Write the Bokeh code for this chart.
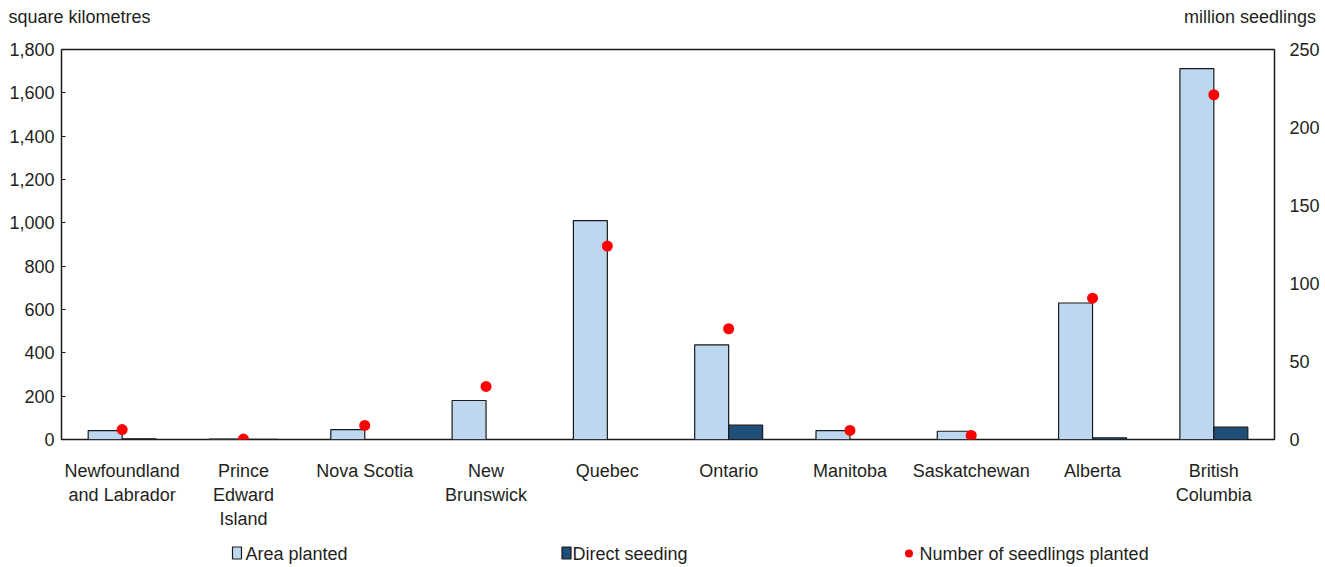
from bokeh.plotting import figure
from bokeh.layouts import column
from bokeh.core.properties import value
from bokeh.models import (Range1d, LinearAxis, FixedTicker, NumeralTickFormatter,
                          ColumnDataSource)
from bokeh.embed import file_html
from bokeh.resources import INLINE

# Tree planting by province
provinces = ["Newfoundland\nand Labrador", "Prince\nEdward\nIsland", "Nova Scotia",
             "New\nBrunswick", "Quebec", "Ontario", "Manitoba", "Saskatchewan",
             "Alberta", "British\nColumbia"]
area_planted = [41, 2, 46, 180, 1010, 437, 41, 38, 630, 1712]        # square kilometres
direct_seeding = [3, 1, 0, 0, 0, 66, 0, 0, 8, 57]                    # square kilometres
seedlings = [6.4, 0.3, 9, 34, 124, 71, 5.8, 2.6, 90.6, 221]          # million seedlings

left_ticks = [0, 200, 400, 600, 800, 1000, 1200, 1400, 1600, 1800]
right_ticks = [0, 50, 100, 150, 200, 250]
unit_captions = ["square kilometres", "million seedlings"]
series_names = ["Area planted", "Direct seeding", "Number of seedlings planted"]

FONT = "Liberation Sans"
FS = "18px"
TXT = "#231f20"
LIGHT = "#bdd7ee"
DARK = "#1f4e79"
RED = "#ff0000"
EDGE = "#1a1a1a"

W = 1325
BORDER_L, BORDER_R = 61, 51

centres = [i + 0.5 for i in range(len(provinces))]
bw = 0.28

src = ColumnDataSource(dict(
    x_area=[c - bw / 2 for c in centres],
    x_direct=[c + bw / 2 for c in centres],
    x=centres,
    area=area_planted,
    direct=direct_seeding,
    seed=seedlings,
))

p = figure(width=W, height=535, output_backend="svg", toolbar_location=None,
           x_range=Range1d(0, len(provinces)), y_range=Range1d(0, 1800),
           min_border_left=BORDER_L, min_border_right=BORDER_R, min_border_top=49,
           min_border_bottom=96, x_axis_type=None, y_axis_type=None)
p.extra_y_ranges = {"seed": Range1d(0, 250)}
p.grid.visible = False
p.outline_line_color = EDGE
p.outline_line_width = 1.5

p.vbar(x="x_area", top="area", width=bw, source=src, fill_color=LIGHT,
       line_color=EDGE, line_width=1.2)
p.vbar(x="x_direct", top="direct", width=bw, source=src, fill_color=DARK,
       line_color=EDGE, line_width=1.2)
p.scatter(x="x", y="seed", source=src, y_range_name="seed", size=11,
          fill_color=RED, line_color=None)

# left axis (square kilometres)
yl = LinearAxis(ticker=FixedTicker(ticks=left_ticks),
                formatter=NumeralTickFormatter(format="0,0"))
yl.axis_line_color = None
yl.major_tick_in = 4
yl.major_tick_out = 0
yl.major_tick_line_color = EDGE
yl.minor_tick_line_color = None
yl.major_label_standoff = 7
p.add_layout(yl, "left")

# right axis (million seedlings)
yr = LinearAxis(y_range_name="seed", ticker=FixedTicker(ticks=right_ticks))
yr.axis_line_color = None
yr.major_tick_line_color = None
yr.minor_tick_line_color = None
yr.major_label_standoff = 9
p.add_layout(yr, "right")

# province axis
xa = LinearAxis(ticker=FixedTicker(ticks=centres),
                major_label_overrides={c: name for c, name in zip(centres, provinces)})
xa.major_label_standoff = 15
p.add_layout(xa, "below")

# unit captions sitting above each value axis
cap_pos = [0.148, 9.798]
cap = LinearAxis(ticker=FixedTicker(ticks=cap_pos),
                 major_label_overrides={c: t for c, t in zip(cap_pos, unit_captions)})
cap.major_label_standoff = 17
p.add_layout(cap, "above")

for ax in (xa, cap):
    ax.axis_line_color = None
    ax.major_tick_line_color = None
    ax.minor_tick_line_color = None

for ax in (yl, yr, xa, cap):
    ax.major_label_text_font = FONT
    ax.major_label_text_font_size = FS
    ax.major_label_text_color = TXT

# key strip under the chart; its x range is in page pixels
lg = figure(width=W, height=32, output_backend="svg", toolbar_location=None,
            x_range=Range1d(BORDER_L, W - BORDER_R), y_range=Range1d(0, 32),
            min_border_left=BORDER_L, min_border_right=BORDER_R,
            min_border_top=0, min_border_bottom=0,
            x_axis_type=None, y_axis_type=None)
lg.grid.visible = False
lg.outline_line_color = None

key_y = 14
lg.rect(x=[236.5, 566], y=[key_y + 0.5] * 2, width=9, height=12,
        width_units="screen", height_units="screen",
        fill_color=[LIGHT, DARK], line_color=EDGE, line_width=1.2)
lg.scatter(x=[908.5], y=[key_y], size=8, fill_color=RED, line_color=None)
lg.text(x=[245, 572, 919], y=[key_y] * 3, text=series_names,
        text_baseline="middle", text_align="left",
        text_font=value(FONT), text_font_size=FS, text_color=TXT)

open("out.html", "w").write(file_html(column(p, lg), INLINE))
